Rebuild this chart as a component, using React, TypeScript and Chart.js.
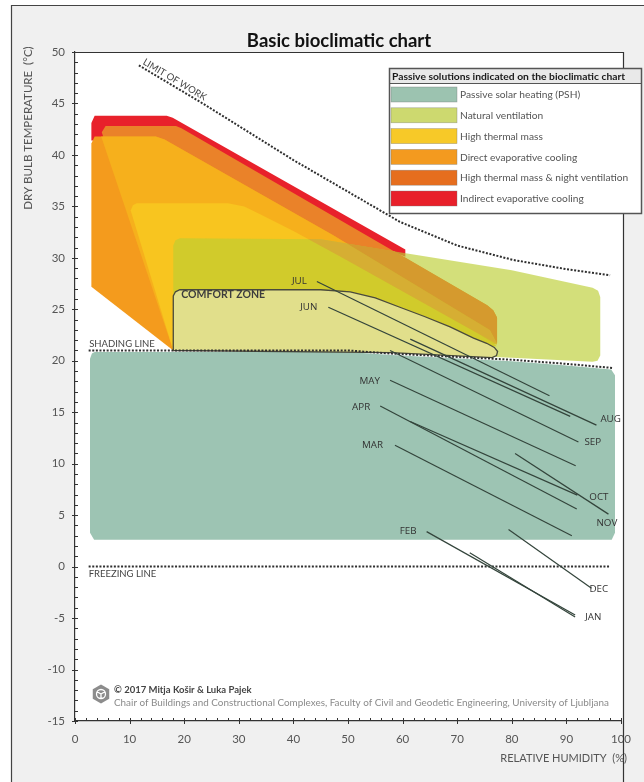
import { useEffect, useRef } from "react";
import { Chart, registerables } from "chart.js";

Chart.register(...registerables);

type P = [number, number];

// ---- axis ranges -------------------------------------------------------
const RH_MIN = 0;
const RH_MAX = 100;
const RH_STEP = 10;
const T_MIN_AXIS = -15;
const T_MAX_AXIS = 50;
const T_STEP = 5;

// ---- monthly climate lines (RH %, dry bulb °C) --------------------------
const MONTHS = ["JAN", "FEB", "MAR", "APR", "MAY", "JUN", "JUL", "AUG", "SEP", "OCT", "NOV", "DEC"];
const RH_AT_TMAX = [72.3, 64.4, 58.6, 55.9, 57.7, 46.4, 44.3, 61.4, 57.7, 61.4, 80.6, 79.4];
const T_MAX = [1.35, 3.4, 11.8, 15.6, 18.1, 25.2, 27.7, 22.1, 21.0, 14.1, 11.0, 3.6];
const RH_AT_TMIN = [91.6, 91.6, 91.0, 91.9, 91.7, 90.7, 86.9, 95.5, 92.2, 92.0, 97.7, 94.6];
const T_MIN = [-4.9, -4.7, 3.0, 5.6, 9.8, 14.6, 16.6, 13.75, 12.1, 6.95, 5.1, -2.1];

// where each month's name sits: which end of its line, and a small pixel nudge
const LABEL_END: ("start" | "end")[] = ["end", "start", "start", "start", "start", "start", "start", "end", "end", "end", "end", "end"];
const LABEL_NUDGE: P[] = [[10, 0], [-10, 0], [-12, 0], [-10, 1], [-10, 1], [-11, 0], [-10, 0], [4, -6], [6, 0], [12, 2], [-12, 9], [-2, 1]];

// ---- reference lines ---------------------------------------------------
const LIMIT_OF_WORK: P[] = [[11.7, 48.7], [23.4, 45.0], [40, 39.5], [59.5, 33.5], [70, 31.2], [80.2, 29.8], [90, 28.9], [98, 28.3]];
const SHADING_LINE: P[] = [[2.5, 21.0], [50, 21.0], [58, 20.7], [80, 20.1], [90, 19.7], [98.5, 19.3]];
const FREEZING_LINE: P[] = [[2.5, 0], [98, 0]];

// ---- passive-solution zones (RH %, °C) ---------------------------------
const ZONE_IEC: P[] = [[3, 41.4], [3, 43.1], [3.6, 43.8], [16.8, 43.8], [17.9, 43.6], [60.5, 30.8], [60.5, 30.1], [4.9, 41.4]];
const ZONE_HTM_NV: P[] = [[4.9, 42.2], [5.6, 42.8], [18.5, 42.8], [19.5, 42.6], [75.5, 25.4], [76.6, 24.9], [77.3, 24.2], [77.3, 21.7], [18, 21.0]];
const ZONE_DEC: P[] = [[3, 27.2], [3, 41.1], [3.6, 41.8], [14.8, 41.8], [16.4, 41.5], [47.3, 32.2], [76, 23.0], [77.3, 21.6], [18, 21.0]];
const ZONE_DEC_HTM: P[] = [[4.8, 41.8], [14.8, 41.8], [16.4, 41.5], [47.3, 32.2], [76, 23.0], [77.3, 21.6], [18, 21.0]];
const ZONE_HTM: P[] = [[18, 21.0], [10.2, 34.6], [10.6, 35.1], [11.3, 35.3], [28, 35.3], [31, 35.0], [34, 34.2], [40, 32.6], [49, 30.0], [74, 22.6], [77.3, 21.4]];
const ZONE_NV: P[] = [[18, 21.0], [18, 31.2], [18.4, 31.7], [19.2, 31.9], [45, 31.8], [60, 30.5], [80, 28.8], [94.8, 27.1], [95.8, 26.8], [96.2, 26.2], [96.2, 20.5], [95.7, 20.0], [94.8, 19.9], [80, 20.3], [58, 20.8], [18, 21.0]];
// parts of the cooling zones that lie inside the ventilation zone
const OVERLAP_HTM_NV_IN_NV: P[] = [[58.5, 30.65], [75.5, 25.4], [76.6, 24.9], [77.3, 24.2], [77.3, 21.7], [76, 23.0], [49.8, 31.39]];
const OVERLAP_DEC_IN_NV: P[] = [[42.7, 31.82], [45, 31.8], [49.8, 31.39], [76, 23.0], [77.3, 21.6], [74, 22.6], [49, 30.0]];
const ZONE_PSH: P[] = [[2.75, 20.2], [3.1, 20.7], [3.6, 20.85], [50, 20.85], [58, 20.55], [80, 19.95], [90, 19.55], [98.2, 19.15], [98.9, 18.6], [98.9, 3.3], [98.3, 2.6], [3.5, 2.6], [2.75, 3.3]];
const ZONE_COMFORT: P[] = [[18, 21.0], [18, 26.3], [18.4, 26.7], [19.2, 26.9], [45, 26.9], [50.4, 26.7], [55, 26.1], [59.5, 25.2], [64, 24.3], [68.7, 23.3], [73, 22.2], [75.4, 21.7], [76.8, 21.3], [77.4, 20.9], [77.2, 20.5], [76.4, 20.3], [58, 20.8], [18, 21.0]];

// ---- legend ------------------------------------------------------------
const LEGEND_TITLE = "Passive solutions indicated on the bioclimatic chart";
const LEGEND_LABELS = [
  "Passive solar heating (PSH)",
  "Natural ventilation",
  "High thermal mass",
  "Direct evaporative cooling",
  "High thermal mass & night ventilation",
  "Indirect evaporative cooling",
];
const LEGEND_COLORS = ["#9cc3b0", "#cdd96f", "#f7c928", "#f39a1f", "#e66e1e", "#e8202a"];

const FONT = "Lato, 'Open Sans', sans-serif";
const toXY = (pts: P[]) => pts.map(([x, y]) => ({ x, y }));

function zone(label: string, pts: P[], color: string, order: number, stroke?: { color: string; width: number }) {
  return {
    label,
    data: toXY(stroke ? [...pts, pts[0]] : pts),
    order,
    backgroundColor: color,
    borderColor: stroke ? stroke.color : "rgba(0,0,0,0)",
    borderWidth: stroke ? stroke.width : 1,
    fill: "shape",
    pointRadius: 0,
    tension: 0,
  };
}

function dotted(label: string, pts: P[], order: number) {
  return {
    label,
    data: toXY(pts),
    order,
    borderColor: "#2f2f2f",
    borderWidth: 2,
    borderDash: [2, 1.6],
    fill: false,
    pointRadius: 0,
    tension: 0,
  };
}

const decor = {
  id: "decor",
  beforeDraw(chart: any) {
    const { ctx, width, height, chartArea: a } = chart;
    ctx.save();
    ctx.fillStyle = "#ffffff";
    ctx.fillRect(0, 0, width, height);
    ctx.fillStyle = "#f0f0f0";
    ctx.fillRect(11, 5, width - 11, height - 5);
    ctx.strokeStyle = "#444";
    ctx.lineWidth = 1.2;
    ctx.beginPath();
    ctx.moveTo(11.5, height);
    ctx.lineTo(11.5, 5.5);
    ctx.lineTo(width, 5.5);
    ctx.stroke();
    ctx.fillStyle = "#ffffff";
    ctx.fillRect(a.left, a.top, a.right + 2 - a.left, a.bottom - a.top);
    ctx.restore();
  },
  afterDraw(chart: any) {
    const { ctx, height, chartArea: a } = chart;
    const xs = chart.scales.x;
    const ys = chart.scales.y;
    ctx.save();

    // frame of the plotting field
    ctx.strokeStyle = "#333";
    ctx.lineWidth = 1.2;
    ctx.beginPath();
    ctx.moveTo(a.left, a.top + 0.5);
    ctx.lineTo(a.right + 2.5, a.top + 0.5);
    ctx.moveTo(a.right + 2.5, a.top);
    ctx.lineTo(a.right + 2.5, height);
    ctx.stroke();

    // major / minor tick marks
    ctx.strokeStyle = "#333";
    ctx.lineWidth = 1;
    ctx.beginPath();
    for (let v = T_MIN_AXIS; v <= T_MAX_AXIS; v++) {
      const py = Math.round(ys.getPixelForValue(v)) + 0.5;
      const major = v % T_STEP === 0;
      ctx.moveTo(a.left - (major ? 3 : 0), py);
      ctx.lineTo(a.left + 3, py);
    }
    for (let v = RH_MIN; v <= RH_MAX; v += 2) {
      const px = Math.round(xs.getPixelForValue(v)) + 0.5;
      const major = v % RH_STEP === 0;
      ctx.moveTo(px, a.bottom + (major ? 3 : 0));
      ctx.lineTo(px, a.bottom - 3);
    }
    ctx.stroke();

    // title and axis titles
    ctx.fillStyle = "#111";
    ctx.font = `bold 18.5px ${FONT}`;
    ctx.textAlign = "center";
    ctx.textBaseline = "middle";
    ctx.fillText("Basic bioclimatic chart", 339, 41);

    ctx.fillStyle = "#555";
    ctx.font = `11.5px ${FONT}`;
    ctx.save();
    ctx.translate(28, 128);
    ctx.rotate(-Math.PI / 2);
    ctx.fillText("DRY BULB TEMPERATURE  (°C)", 0, 0);
    ctx.restore();
    ctx.textAlign = "right";
    ctx.font = `11px ${FONT}`;
    ctx.fillText("RELATIVE HUMIDITY  (%)", 627, 758);

    // line captions
    ctx.fillStyle = "#444";
    ctx.font = `9.5px ${FONT}`;
    ctx.textAlign = "left";
    ctx.textBaseline = "alphabetic";
    ctx.fillText("SHADING LINE", xs.getPixelForValue(SHADING_LINE[0][0]) + 0.5, ys.getPixelForValue(SHADING_LINE[0][1]) - 3);
    ctx.textBaseline = "top";
    ctx.fillText("FREEZING LINE", xs.getPixelForValue(FREEZING_LINE[0][0]), ys.getPixelForValue(0) + 3);

    const l0x = xs.getPixelForValue(LIMIT_OF_WORK[0][0]);
    const l0y = ys.getPixelForValue(LIMIT_OF_WORK[0][1]);
    const l1x = xs.getPixelForValue(LIMIT_OF_WORK[1][0]);
    const l1y = ys.getPixelForValue(LIMIT_OF_WORK[1][1]);
    ctx.save();
    ctx.translate(l0x, l0y);
    ctx.rotate(Math.atan2(l1y - l0y, l1x - l0x));
    ctx.textBaseline = "alphabetic";
    ctx.fillText("LIMIT OF WORK", 2, -3);
    ctx.restore();

    ctx.fillStyle = "#3d3d3d";
    ctx.font = `bold 10.5px ${FONT}`;
    ctx.textBaseline = "middle";
    ctx.fillText("COMFORT ZONE", xs.getPixelForValue(ZONE_COMFORT[3][0]) + 1.5, ys.getPixelForValue(ZONE_COMFORT[3][1]) + 5);

    // month names
    ctx.fillStyle = "#333";
    ctx.font = `9.8px 'Open Sans', sans-serif`;
    ctx.textBaseline = "middle";
    MONTHS.forEach((m, i) => {
      const atStart = LABEL_END[i] === "start";
      const px = xs.getPixelForValue(atStart ? RH_AT_TMAX[i] : RH_AT_TMIN[i]);
      const py = ys.getPixelForValue(atStart ? T_MAX[i] : T_MIN[i]);
      ctx.textAlign = atStart ? "right" : "left";
      ctx.fillText(m, px + LABEL_NUDGE[i][0], py + LABEL_NUDGE[i][1]);
    });

    // legend box
    const bx = 389.5, by = 68.5, bw = 252, bh = 145;
    ctx.fillStyle = "#ffffff";
    ctx.fillRect(bx, by, bw, bh);
    ctx.fillStyle = "#e9e9e9";
    ctx.fillRect(bx, by, bw, 15);
    ctx.strokeStyle = "#555";
    ctx.lineWidth = 1.5;
    ctx.strokeRect(bx, by, bw, bh);
    ctx.lineWidth = 1;
    ctx.beginPath();
    ctx.moveTo(bx, by + 15);
    ctx.lineTo(bx + bw, by + 15);
    ctx.stroke();
    ctx.fillStyle = "#1a1a1a";
    ctx.font = `bold 10.3px ${FONT}`;
    ctx.textAlign = "left";
    ctx.textBaseline = "middle";
    ctx.fillText(LEGEND_TITLE, bx + 2.5, by + 8);
    LEGEND_LABELS.forEach((lab, i) => {
      const sy = 87 + i * 20.8;
      ctx.fillStyle = LEGEND_COLORS[i];
      ctx.fillRect(391, sy, 66, 15);
      ctx.strokeStyle = "rgba(120,120,120,0.6)";
      ctx.lineWidth = 0.6;
      ctx.strokeRect(391, sy, 66, 15);
      ctx.fillStyle = "#555";
      ctx.font = `10.2px ${FONT}`;
      ctx.fillText(lab, 460, sy + 8);
    });

    // author credit with emblem
    const cx = 101, cy = 694, r = 9.5;
    ctx.fillStyle = "#8c8c8c";
    ctx.beginPath();
    for (let k = 0; k < 6; k++) {
      const ang = Math.PI / 6 + (k * Math.PI) / 3;
      const hx = cx + r * Math.cos(ang), hy = cy + r * Math.sin(ang);
      if (k === 0) ctx.moveTo(hx, hy); else ctx.lineTo(hx, hy);
    }
    ctx.closePath();
    ctx.fill();
    ctx.strokeStyle = "#ffffff";
    ctx.lineWidth = 1.3;
    ctx.beginPath();
    ctx.arc(cx, cy, 4.5, 0, Math.PI * 2);
    ctx.moveTo(cx, cy);
    ctx.lineTo(cx, cy + 4.5);
    ctx.moveTo(cx, cy);
    ctx.lineTo(cx - 3.9, cy - 2.2);
    ctx.moveTo(cx, cy);
    ctx.lineTo(cx + 3.9, cy - 2.2);
    ctx.stroke();

    ctx.textAlign = "left";
    ctx.textBaseline = "alphabetic";
    ctx.fillStyle = "#444";
    ctx.font = `bold 9.5px ${FONT}`;
    ctx.fillText("© 2017 Mitja Košir & Luka Pajek", 114, 693);
    ctx.fillStyle = "#8a8a8a";
    ctx.font = `9.9px ${FONT}`;
    ctx.fillText("Chair of Buildings and Constructional Complexes, Faculty of Civil and Geodetic Engineering, University of Ljubljana", 114, 706);

    ctx.restore();
  },
};

export default function App() {
  const ref = useRef<HTMLCanvasElement | null>(null);

  useEffect(() => {
    document.body.style.margin = "0";
    const canvas = ref.current;
    if (!canvas) return;

    const monthLines = MONTHS.map((m, i) => ({
      label: m,
      data: toXY([[RH_AT_TMAX[i], T_MAX[i]], [RH_AT_TMIN[i], T_MIN[i]]]),
      order: 1,
      borderColor: "#33443b",
      borderWidth: 1.2,
      fill: false,
      pointRadius: 0,
      tension: 0,
    }));

    const chart = new Chart(canvas, {
      type: "line",
      data: {
        datasets: [
          ...monthLines,
          dotted("Limit of work", LIMIT_OF_WORK, 2),
          dotted("Shading line", SHADING_LINE, 2),
          dotted("Freezing line", FREEZING_LINE, 2),
          zone("Comfort zone", ZONE_COMFORT, "#e1df8b", 5, { color: "#4a4a3c", width: 1.3 }),
          zone("Passive solar heating (PSH)", ZONE_PSH, "#9dc4b3", 6),
          zone("HTM & NV within NV", OVERLAP_HTM_NV_IN_NV, "#d59a2e", 6.5),
          zone("DEC within NV", OVERLAP_DEC_IN_NV, "#d6ae33", 6.6),
          zone("Natural ventilation", ZONE_NV, "rgba(188,206,51,0.65)", 7),
          zone("High thermal mass", ZONE_HTM, "#f8c51f", 8),
          zone("High thermal mass (overlap)", ZONE_DEC_HTM, "#f6b01c", 9),
          zone("Direct evaporative cooling", ZONE_DEC, "#f49b1d", 10),
          zone("High thermal mass & night ventilation", ZONE_HTM_NV, "#ea8229", 11),
          zone("Indirect evaporative cooling", ZONE_IEC, "#e8212b", 12),
        ] as any,
      },
      options: {
        responsive: false,
        animation: false,
        devicePixelRatio: 1,
        layout: { padding: { top: 52, right: 23, left: 0, bottom: 0 } },
        plugins: { legend: { display: false }, tooltip: { enabled: false }, title: { display: false } },
        scales: {
          x: {
            type: "linear",
            min: RH_MIN,
            max: RH_MAX,
            ticks: { stepSize: RH_STEP, color: "#555", padding: 3, font: { family: FONT, size: 11.5 } },
            grid: { display: false },
            border: { display: true, color: "#333", width: 1.2 },
            afterFit: (s: any) => { s.height = 61; },
          },
          y: {
            type: "linear",
            min: T_MIN_AXIS,
            max: T_MAX_AXIS,
            ticks: { stepSize: T_STEP, color: "#555", padding: 2, font: { family: FONT, size: 11.5 } },
            grid: { display: false },
            border: { display: true, color: "#333", width: 1.2 },
            afterFit: (s: any) => { s.width = 75; },
          },
        },
      } as any,
      plugins: [decor],
    });

    return () => chart.destroy();
  }, []);

  return (
    <div style={{ width: 644, height: 782 }}>
      <canvas ref={ref} width={644} height={782} style={{ display: "block" }} />
    </div>
  );
}
